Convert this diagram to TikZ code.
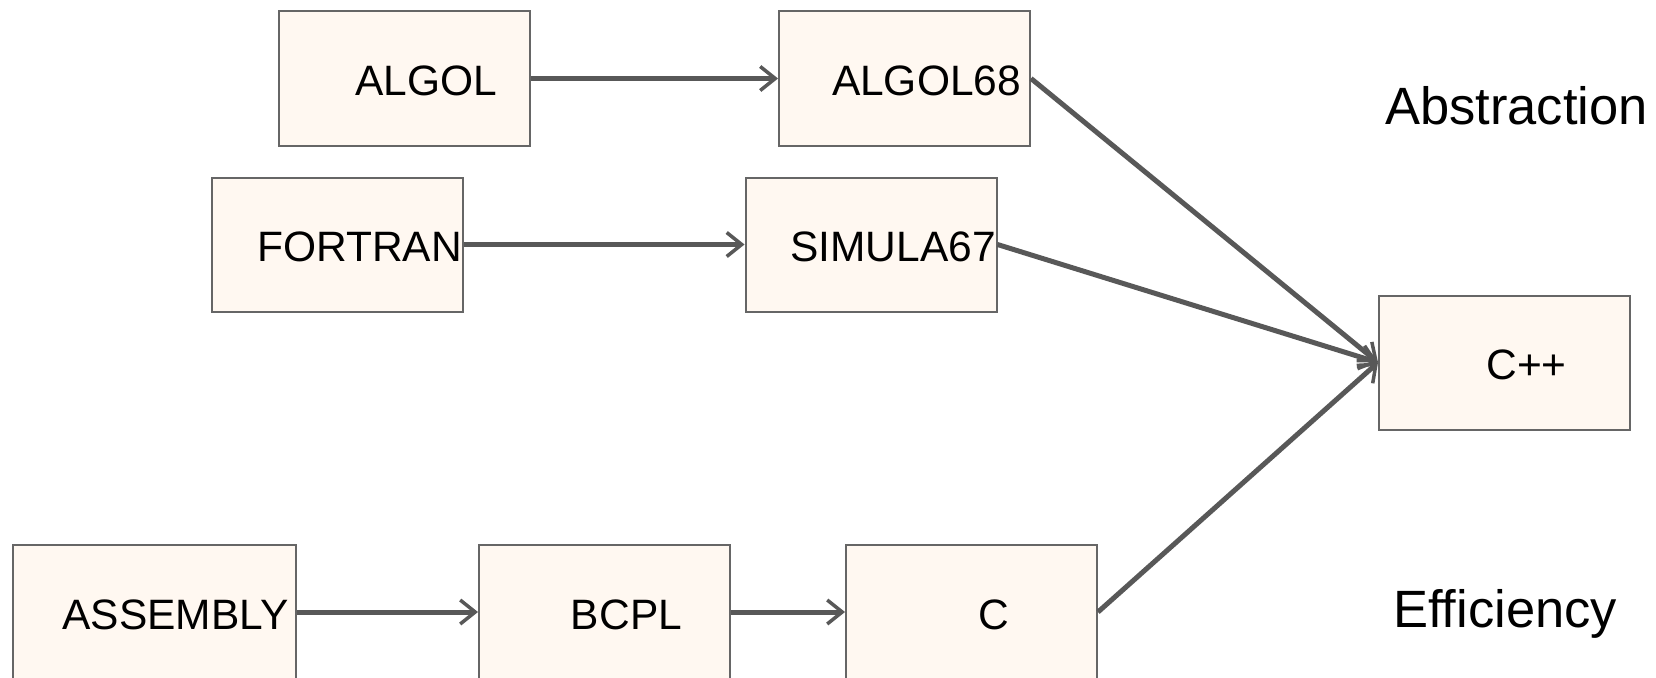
\documentclass[tikz,border=0pt]{standalone}
\usepackage{fontspec}
\setmainfont{Liberation Sans}
\usetikzlibrary{arrows.meta,calc}
\definecolor{boxfill}{RGB}{255,248,241}
\definecolor{boxline}{RGB}{102,102,102}
\definecolor{connline}{RGB}{88,88,88}
\tikzset{
  lang/.style={draw=boxline, fill=boxfill, line width=2pt, inner sep=0pt,
    minimum width=251pt, minimum height=134pt},
  wide/.style={minimum width=283pt},
  langtext/.style={anchor=base, inner sep=0pt, font=\fontsize{42.5}{51}\selectfont},
  heading/.style={anchor=base west, inner sep=0pt, font=\fontsize{52.5}{63}\selectfont},
  conn/.style={draw=connline, line width=5pt,
    -{Straight Barb[length=15pt, width=24pt, line width=3.5pt]}}
}
\begin{document}
\begin{tikzpicture}[x=1pt, y=-1pt]
  \useasboundingbox (0,0) rectangle (1656,677);

  % language boxes
  \node[lang] (algol)    at (404,78.5)   {};
  \node[lang] (algol68)  at (904.5,78.5) {};
  \node[lang] (fortran)  at (337.5,244.5) {};
  \node[lang] (simula)   at (871,244.5)  {};
  \node[lang] (cpp)      at (1504.5,362.5) {};
  \node[lang, wide] (asm) at (154.5,612) {};
  \node[lang] (bcpl)     at (604.5,612)  {};
  \node[lang] (c)        at (971.5,612)  {};

  % box captions, set a little right of centre
  \node[langtext] (talgol)   at ($(algol.center)+(22,17)$)   {ALGOL};
  \node[langtext] (talgol68) at ($(algol68.center)+(22,17)$) {ALGOL68};
  \node[langtext] (tfortran) at ($(fortran.center)+(22,17)$) {FORTRAN};
  \node[langtext] (tsimula)  at ($(simula.center)+(22,17)$)  {SIMULA67};
  \node[langtext] (tcpp)     at ($(cpp.center)+(22,17)$)     {C++};
  \node[langtext] (tasm)     at ($(asm.center)+(21,17)$)     {ASSEMBLY};
  \node[langtext] (tbcpl)    at ($(bcpl.center)+(22,17)$)    {BCPL};
  \node[langtext] (tc)       at ($(c.center)+(22,17)$)       {C};

  % side headings
  \node[heading] (abstr) at (1385,124) {Abstraction};
  \node[heading] (effic) at (1393,627) {Efficiency};

  % lineage
  \draw[conn] (algol.east)   -- (algol68.west);
  \draw[conn] (fortran.east) -- (simula.west);
  \draw[conn] (asm.east)     -- (bcpl.west);
  \draw[conn] (bcpl.east)    -- (c.west);
  \draw[conn] (algol68.east) -- (cpp.west);
  \draw[conn] (simula.east)  -- (cpp.west);
  \draw[conn] (c.east)       -- (cpp.west);
\end{tikzpicture}
\end{document}
